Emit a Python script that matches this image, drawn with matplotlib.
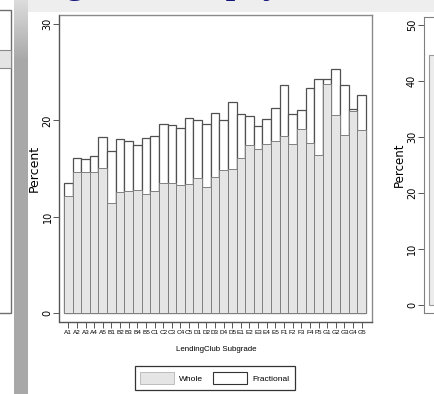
import numpy as np
import matplotlib
matplotlib.use('Agg')
import matplotlib.pyplot as plt
from matplotlib import font_manager
from matplotlib.patches import Rectangle, Patch

# --- data ---
subgrades = ['A1', 'A2', 'A3', 'A4', 'A5', 'B1', 'B2', 'B3', 'B4', 'B5',
             'C1', 'C2', 'C3', 'C4', 'C5', 'D1', 'D2', 'D3', 'D4', 'D5',
             'E1', 'E2', 'E3', 'E4', 'E5', 'F1', 'F2', 'F3', 'F4', 'F5',
             'G1', 'G2', 'G3', 'G4', 'G5']
whole = [12.15, 14.7, 14.7, 14.6, 15.1, 11.4, 12.6, 12.7, 12.8, 12.4,
         12.7, 13.5, 13.5, 13.3, 13.4, 14.0, 13.1, 14.1, 14.9, 14.95,
         16.1, 17.4, 17.05, 17.6, 17.9, 18.4, 17.6, 19.1, 17.7, 16.45,
         23.75, 20.55, 18.45, 20.95, 19.0]
fractional = [13.5, 16.1, 16.05, 16.3, 18.3, 16.8, 18.1, 17.9, 17.5, 18.2,
              18.4, 19.6, 19.55, 19.2, 20.3, 20.0, 19.6, 20.8, 20.05, 21.9,
              20.65, 20.45, 19.45, 20.1, 21.3, 23.7, 20.7, 21.1, 23.4, 24.25,
              24.3, 25.3, 23.65, 21.2, 22.65]
yticks = [0, 10, 20, 30]

# neighbouring chart (cut off at the right edge)
next_bar = [44.6]
next_yticks = [0, 10, 20, 30, 40, 50]

slide_title = 'Lending Club Repayment'

W, H = 434, 394
installed = {f.name for f in font_manager.fontManager.ttflist}
if 'Liberation Sans Narrow' in installed:
    narrow, tick_fs, xlab_fs, leg_fs = 'Liberation Sans Narrow', 5.6, 6.8, 7
else:
    narrow, tick_fs, xlab_fs, leg_fs = 'Liberation Sans', 4.6, 5.7, 6

fig = plt.figure(figsize=(W / 100, H / 100), dpi=100)
fig.patch.set_facecolor('white')


def px_axes(l, t, r, b):
    return fig.add_axes([l / W, 1 - b / H, (r - l) / W, (b - t) / H])


# --- slide background pieces ---
bg = fig.add_axes([0, 0, 1, 1], zorder=0)
grad = np.concatenate([np.linspace(0.86, 0.66, 60), np.full(H - 60, 0.66)])
bg.imshow(grad[:, None] * np.ones((1, 4)), extent=(14, 28, H, 0),
          aspect='auto', cmap='gray', vmin=0, vmax=1)
bg.add_patch(Rectangle((28, 0), W - 28, 12, fc='#eeeeee', ec='none'))
bg.add_patch(Rectangle((-6, 10), 16.5, 303, fc='white', ec='#6e6e6e', lw=1))
bg.add_patch(Rectangle((-6, 50), 16.5, 18, fc='#e4e4e4', ec='#8a8a8a', lw=0.8))
bg.set_xlim(0, W)
bg.set_ylim(H, 0)
bg.axis('off')
# slide title, almost entirely above the visible area (only descenders show)
fig.text(-47 / W, 1 + 8 / H, slide_title, family='Liberation Serif',
         fontsize=28.5, color='#14147a', ha='left', va='baseline')

# --- main chart ---
ax = px_axes(59.5, 15, 372, 321.5)
x = np.arange(len(subgrades))
ax.bar(x, fractional, width=1, color='white', edgecolor='#505050',
       linewidth=0.9, zorder=2, label='Fractional')
ax.bar(x, whole, width=1, color='#e5e5e5', edgecolor='#808080',
       linewidth=0.7, zorder=3, label='Whole')
ax.set_xlim(-1.02, 35.2)
ax.set_ylim(-0.85, 30.93)

for s in ax.spines.values():
    s.set_color('#8a8a8a')
    s.set_linewidth(1.0)
ax.spines['left'].set_color('#555555')
ax.spines['bottom'].set_color('#555555')

ax.set_yticks(yticks)
ax.set_yticklabels([str(v) for v in yticks], rotation=90, va='center',
                   family='DejaVu Sans', fontsize=7)
ax.set_xticks(x)
ax.set_xticklabels(subgrades, family=narrow, fontsize=tick_fs)
ax.tick_params(axis='both', direction='out', length=4, width=0.7,
               color='#555555', pad=2)
ax.tick_params(axis='y', pad=1)
ax.set_ylabel('Percent', family='DejaVu Sans', fontsize=9, labelpad=1)
ax.set_xlabel('LendingClub Subgrade', family=narrow, fontsize=xlab_fs,
              labelpad=8)

handles = [Patch(fc='#e5e5e5', ec='#a8a8a8', lw=0.5, label='Whole'),
           Patch(fc='white', ec='#333333', lw=0.8, label='Fractional')]
leg = fig.legend(handles=handles, loc='center', ncol=2,
                 bbox_to_anchor=(215 / W, 1 - 378 / H),
                 prop={'family': narrow, 'size': leg_fs}, fancybox=False,
                 edgecolor='#333333', framealpha=1, handlelength=4.0,
                 handleheight=1.9, handletextpad=0.7, columnspacing=1.2,
                 borderpad=0.65)
leg.get_frame().set_linewidth(0.9)

# --- neighbouring chart, cut off ---
ax2 = px_axes(424, 17, 624, 313)
ax2.bar([0], next_bar, width=1, color='#ececec', edgecolor='#999999',
        linewidth=0.8)
ax2.set_xlim(-1, 19)
ax2.set_ylim(-1.43, 51.43)
for s in ax2.spines.values():
    s.set_color('#808080')
ax2.set_xticks([])
ax2.set_yticks(next_yticks)
ax2.set_yticklabels([str(v) for v in next_yticks], rotation=90, va='center',
                    family='DejaVu Sans', fontsize=7)
ax2.tick_params(axis='y', direction='out', length=4, width=0.7,
                color='#555555', pad=1)
ax2.set_ylabel('Percent', family='DejaVu Sans', fontsize=8.5, labelpad=1)

fig.savefig('out.png', dpi=100)
